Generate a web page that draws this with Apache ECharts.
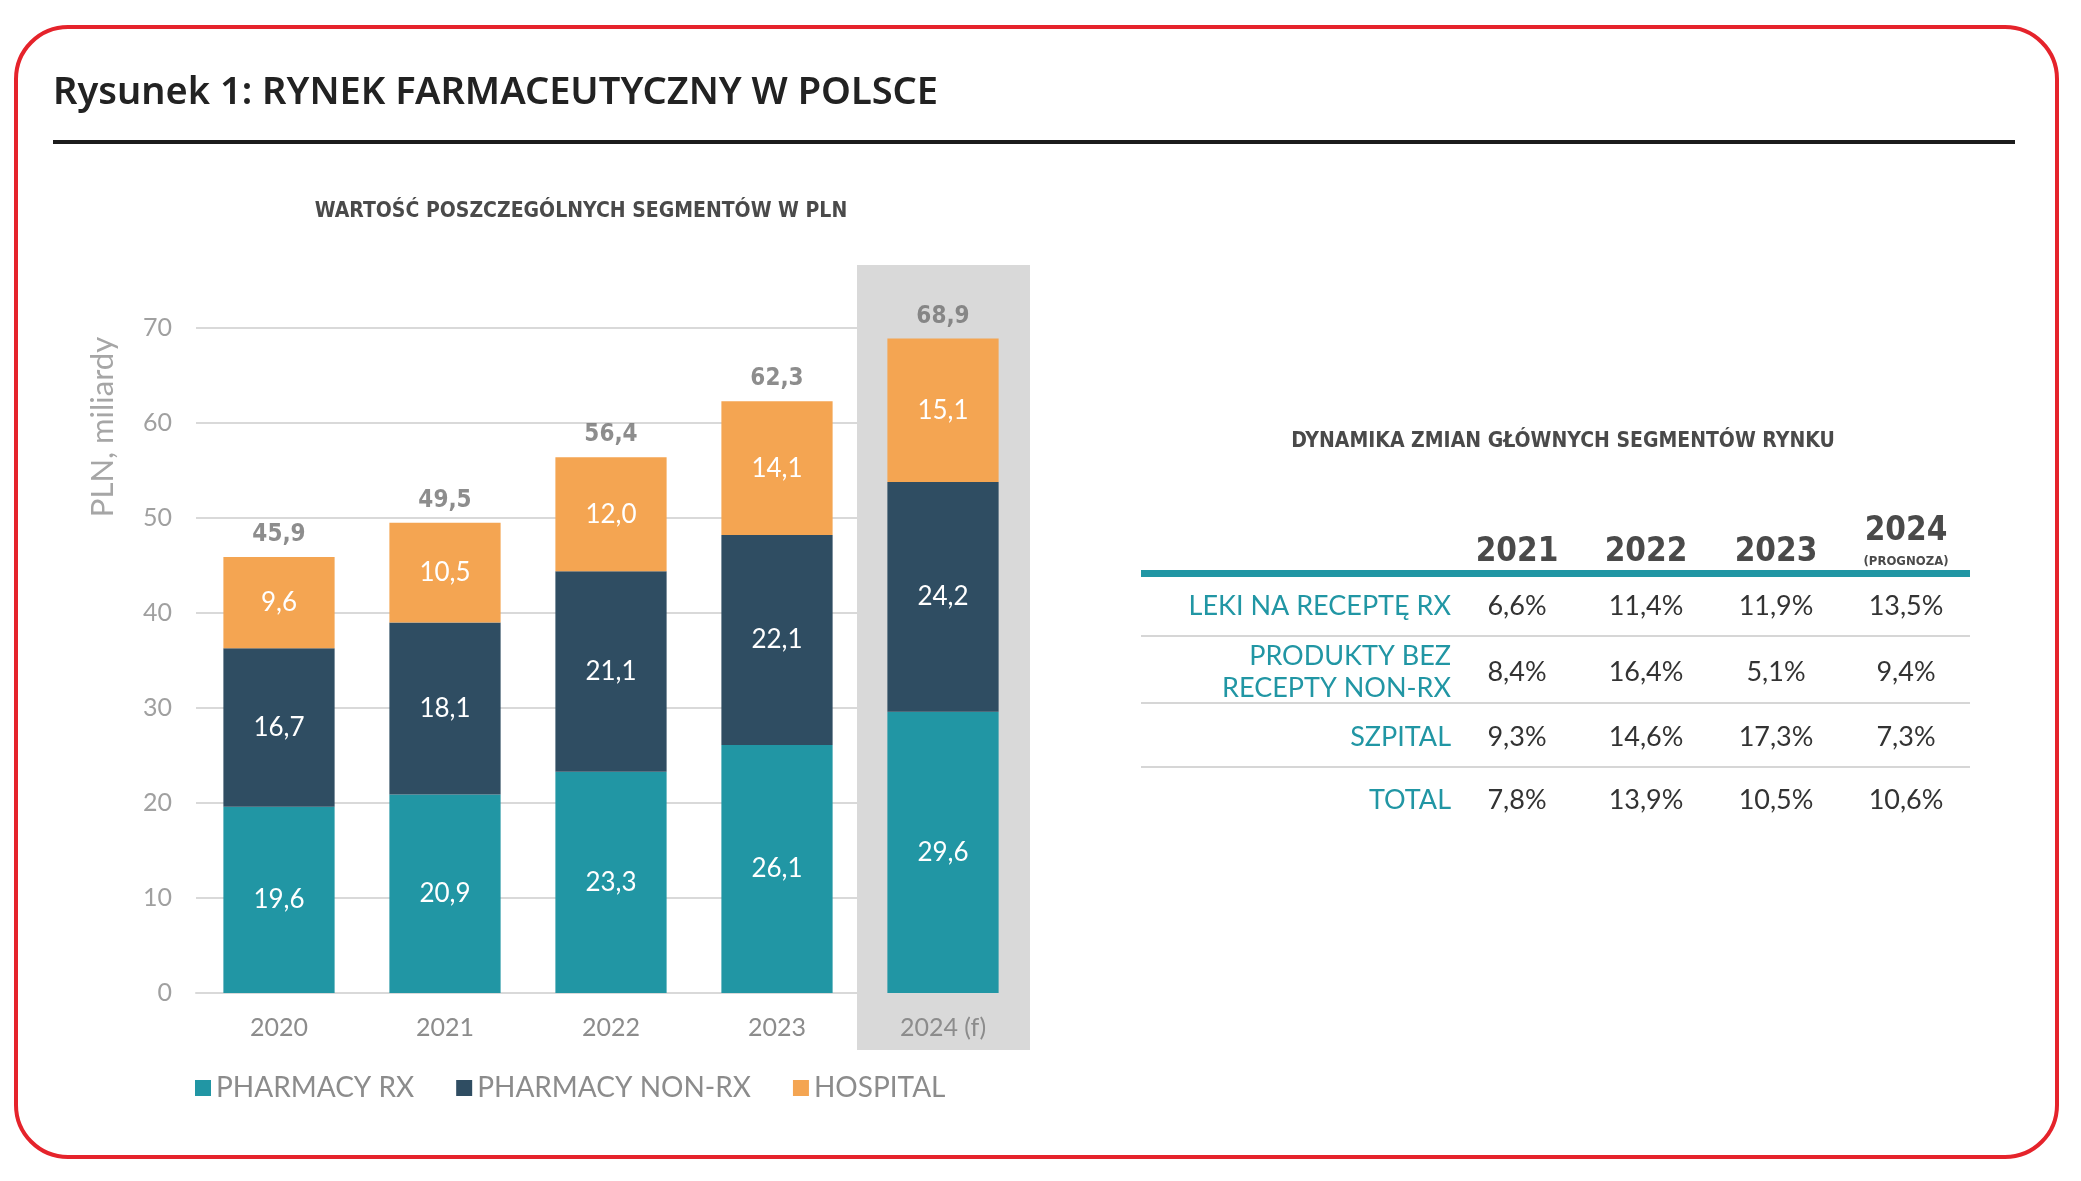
<!DOCTYPE html>
<html><head><meta charset="utf-8">
<script src="https://cdn.jsdelivr.net/npm/echarts@6/dist/echarts.min.js"></script>
<style>html,body{margin:0;padding:0;background:#fff}#c{width:2081px;height:1181px}</style>
</head><body><div id="c"></div>
<script>
// ---- chart data ----
const categories = ['2020', '2021', '2022', '2023', '2024 (f)'];
const pharmacyRx = [19.6, 20.9, 23.3, 26.1, 29.6];
const pharmacyNonRx = [16.7, 18.1, 21.1, 22.1, 24.2];
const hospital = [9.6, 10.5, 12.0, 14.1, 15.1];
const totals = [45.9, 49.5, 56.4, 62.3, 68.9];
const seriesNames = ['PHARMACY RX', 'PHARMACY NON-RX', 'HOSPITAL'];
const yTicks = [0, 10, 20, 30, 40, 50, 60, 70];

// ---- table data ----
const tableYears = ['2021', '2022', '2023', '2024'];
const tableYearNote = '(PROGNOZA)';
const tableRowLabels = ['LEKI NA RECEPTĘ RX', 'PRODUKTY BEZ\nRECEPTY NON-RX', 'SZPITAL', 'TOTAL'];
const growthRx = [6.6, 11.4, 11.9, 13.5];
const growthNonRx = [8.4, 16.4, 5.1, 9.4];
const growthHospital = [9.3, 14.6, 17.3, 7.3];
const growthTotal = [7.8, 13.9, 10.5, 10.6];

const fmt = v => v.toFixed(1).replace('.', ',');
const colors = ['#2196a4', '#2f4d62', '#f4a552'];

const chart = echarts.init(document.getElementById('c'));

const NARROW = '"Liberation Sans Narrow","DejaVu Sans Condensed","Roboto Condensed",Roboto,sans-serif';
const THIN = 'Lato, "Open Sans", sans-serif';

function segSeries(name, data, i) {
  return {
    name: name, type: 'bar', stack: 'total', data: data, barWidth: '67%',
    itemStyle: { color: colors[i] },
    label: { show: true, position: 'inside', color: '#fff', fontFamily: THIN, fontSize: 26,
      formatter: p => fmt(p.value) },
    emphasis: { disabled: true }
  };
}

// table graphic built from arrays
function tableGraphics() {
  const g = [];
  const colX = [1517, 1646, 1776, 1906];
  const lineX0 = 1141, lineX1 = 1970;
  const labelRight = 1451;
  const rowY = [606, 672, 737, 800];
  const sepY = [636, 703, 767];
  const rows = [growthRx, growthNonRx, growthHospital, growthTotal];
  g.push({ type: 'text', x: 1563, y: 442, style: { text: 'DYNAMIKA ZMIAN GŁÓWNYCH SEGMENTÓW RYNKU',
    font: 'bold 21px ' + NARROW, fill: '#4a4a4a', textAlign: 'center', textVerticalAlign: 'middle' } });
  tableYears.forEach((y, i) => {
    g.push({ type: 'text', x: colX[i], y: i === 3 ? 531 : 552, style: { text: y,
      font: 'bold 33px ' + NARROW, fill: '#4a4a4a', textAlign: 'center', textVerticalAlign: 'middle' } });
  });
  g.push({ type: 'text', x: colX[3], y: 562, style: { text: tableYearNote,
    font: 'bold 13px ' + NARROW, fill: '#4a4a4a', textAlign: 'center', textVerticalAlign: 'middle' } });
  g.push({ type: 'rect', shape: { x: lineX0, y: 570, width: lineX1 - lineX0, height: 7 }, style: { fill: '#2196a4' } });
  sepY.forEach(y => g.push({ type: 'line', shape: { x1: lineX0, y1: y, x2: lineX1, y2: y },
    style: { stroke: '#c8c8c8', lineWidth: 1.5 } }));
  tableRowLabels.forEach((lab, r) => {
    g.push({ type: 'text', x: labelRight, y: rowY[r], style: { text: lab, font: '27px ' + THIN,
      fill: '#2196a4', textAlign: 'right', textVerticalAlign: 'middle', lineHeight: 32 } });
    rows[r].forEach((v, c) => {
      g.push({ type: 'text', x: colX[c], y: rowY[r], style: { text: fmt(v) + '%', font: '27px ' + THIN,
        fill: '#333', textAlign: 'center', textVerticalAlign: 'middle' } });
    });
  });
  return g;
}

const baseGraphics = [
  { type: 'rect', shape: { x: 16, y: 27, width: 2041, height: 1130, r: 52 },
    style: { fill: null, stroke: '#e5232b', lineWidth: 4 } },
  { type: 'text', x: 53, y: 93, style: { text: 'Rysunek 1: RYNEK FARMACEUTYCZNY W POLSCE',
    font: '600 38px "Noto Sans", sans-serif', fill: '#222', textVerticalAlign: 'middle' } },
  { type: 'rect', shape: { x: 53, y: 140, width: 1962, height: 4 }, style: { fill: '#1c1c1c' } },
  { type: 'text', x: 581, y: 212, style: { text: 'WARTOŚĆ POSZCZEGÓLNYCH SEGMENTÓW W PLN',
    font: 'bold 21px ' + NARROW, fill: '#4a4a4a', textAlign: 'center', textVerticalAlign: 'middle' } },
  { type: 'text', x: 103, y: 427, rotation: Math.PI / 2, style: { text: 'PLN, miliardy',
    font: '31px ' + THIN, fill: '#a6a6a6', textAlign: 'center', textVerticalAlign: 'middle' } }
].concat(tableGraphics());

chart.setOption({
  animation: false,
  textStyle: { fontFamily: THIN },
  grid: { left: 196, right: 1055, top: 328, bottom: 188, containLabel: false },
  legend: {
    data: seriesNames, left: 190, top: 1069, itemWidth: 16, itemHeight: 16, itemGap: 42,
    icon: 'rect', textStyle: { color: '#8c8c8c', fontSize: 28, fontFamily: THIN }
  },
  xAxis: {
    type: 'category', data: categories,
    axisLine: { show: true, lineStyle: { color: '#d9d9d9', width: 2 } },
    axisTick: { show: false },
    axisLabel: { color: '#8c8c8c', fontSize: 25, margin: 22, fontFamily: THIN }
  },
  yAxis: {
    type: 'value', min: yTicks[0], max: yTicks[yTicks.length - 1], interval: 10,
    axisLine: { show: false }, axisTick: { show: false },
    splitLine: { lineStyle: { color: '#d9d9d9', width: 2 } },
    axisLabel: { color: '#a0a0a0', fontSize: 25, margin: 24, fontFamily: THIN }
  },
  series: [
    segSeries(seriesNames[0], pharmacyRx, 0),
    segSeries(seriesNames[1], pharmacyNonRx, 1),
    segSeries(seriesNames[2], hospital, 2),
    {
      name: 'total', type: 'scatter', data: totals, symbolSize: 0, z: 5,
      label: { show: true, position: 'top', distance: 10, color: '#707070', fontSize: 24,
        fontWeight: 'bold', fontFamily: NARROW, formatter: p => fmt(p.value) },
      emphasis: { disabled: true }
    }
  ],
  graphic: baseGraphics
});

// highlight box behind the forecast category
const cx = chart.convertToPixel({ xAxisIndex: 0 }, categories[categories.length - 1]);
const box = { type: 'rect', z: -10, shape: { x: cx - 86, y: 265, width: 173, height: 785 },
  style: { fill: '#d9d9d9' } };
chart.setOption({ graphic: [box].concat(baseGraphics) }, { replaceMerge: ['graphic'] });
</script></body></html>
